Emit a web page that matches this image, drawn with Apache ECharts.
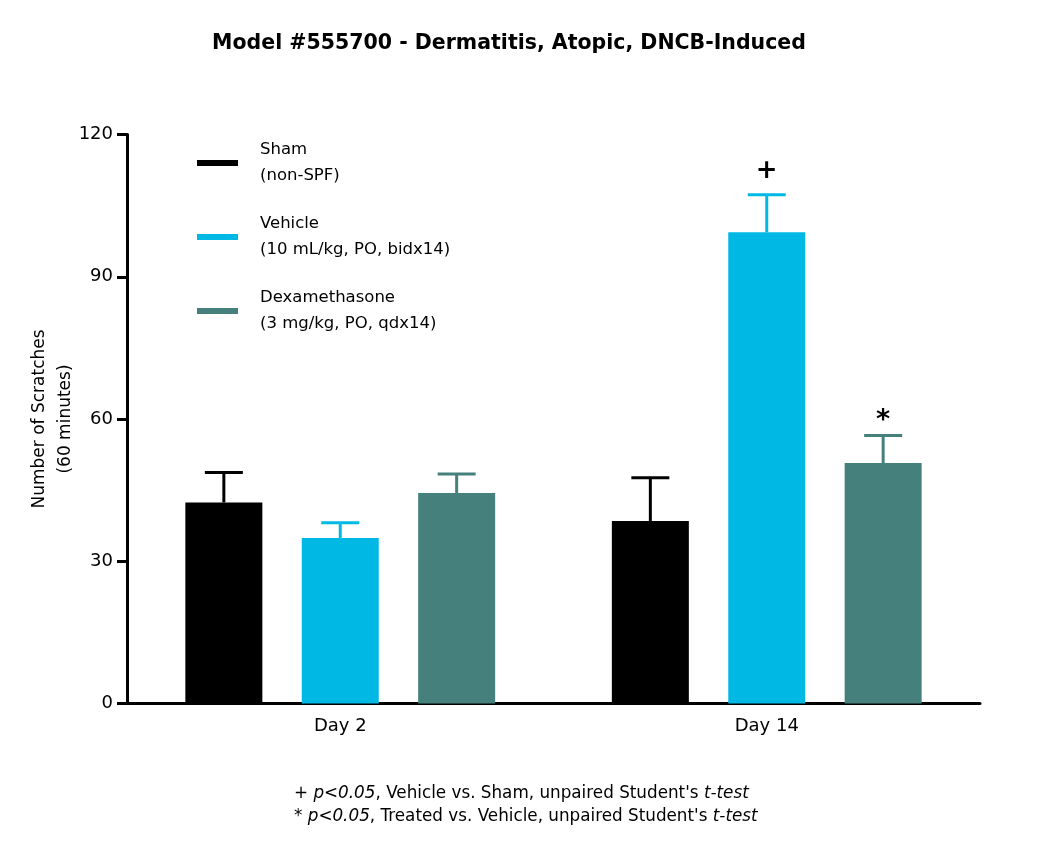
<!DOCTYPE html>
<html>
<head>
<meta charset="utf-8">
<script src="https://cdn.jsdelivr.net/npm/echarts@6/dist/echarts.min.js"></script>
<style>
html,body{margin:0;padding:0;background:#fff;}
#chart{width:1050px;height:855px;}
</style>
</head>
<body>
<div id="chart"></div>
<script>
// data
var days=['Day 2','Day 14'];
var groups=['Sham','Vehicle','Dexamethasone'];
var groupSub=['(non-SPF)','(10 mL/kg, PO, bidx14)','(3 mg/kg, PO, qdx14)'];
var shamMean=[42.4,38.5];
var shamSem=[6.3,9.1];
var vehMean=[34.9,99.4];
var vehSem=[3.2,7.9];
var dexMean=[44.4,50.7];
var dexSem=[4.0,5.8];
var vehSig=['','+'];
var dexSig=['','*'];
var yTicks=[0,30,60,90,120];

var colors=['#000000','#00b8e4','#45807d'];
var BAR_W=77, BAR_GAP=39.4;
var FONT='DejaVu Sans, Verdana, sans-serif';

var myChart=echarts.init(document.getElementById('chart'));

// error bar for one group (idx = position in the group)
function errSeries(idx,mean,sem,sig){
	var d=[];
	for(var i=0;i<days.length;i++){
		d.push([i,mean[i],sem[i],i]);
	}
	return {
		type:'custom',
		name:'err'+idx,
		z:5,
		silent:true,
		data:d,
		renderItem:function(params,api){
			var ci=api.value(0);
			var off=(idx-1)*(BAR_W+BAR_GAP);
			var x=api.coord([ci,0])[0]+off;
			var yM=api.coord([ci,api.value(1)])[1];
			var yT=api.coord([ci,api.value(1)+api.value(2)])[1];
			var st={stroke:colors[idx],lineWidth:3};
			var kids=[
				{type:'line',shape:{x1:x,y1:yM,x2:x,y2:yT},style:st},
				{type:'line',shape:{x1:x-19,y1:yT,x2:x+19,y2:yT},style:st}
			];
			var s=sig?sig[api.value(3)]:'';
			if(s){
				kids.push({type:'text',style:{
					text:s,x:x,y:yT-(s=='*'?1:10),
					align:'center',verticalAlign:'bottom',
					fill:'#000',font:(s=='*'?'bold 27px ':'bold 26px ')+FONT
				}});
			}
			return {type:'group',children:kids};
		}
	};
}

myChart.setOption({
	animation:false,
	backgroundColor:'#fff',
	title:{
		text:'Model #555700 - Dermatitis, Atopic, DNCB-Induced',
		left:509,top:33,textAlign:'center',padding:0,
		textStyle:{fontFamily:FONT,fontSize:20.5,fontWeight:'bold',color:'#000'}
	},
	legend:{
		data:groups,
		orient:'vertical',
		left:197,top:137,
		padding:0,
		icon:'rect',
		itemWidth:41,itemHeight:6,
		itemGap:22,
		selectedMode:false,
		formatter:function(n){
			return n+'\n'+groupSub[groups.indexOf(n)];
		},
		textStyle:{fontFamily:FONT,fontSize:16.5,color:'#000',lineHeight:26,padding:[0,0,0,17]}
	},
	grid:{left:127,right:70,top:134.5,bottom:151.5,outerBoundsMode:'none'},
	xAxis:{
		type:'category',
		data:days,
		axisLine:{lineStyle:{color:'#000',width:3}},
		axisTick:{alignWithLabel:true,length:10,lineStyle:{color:'#000',width:3}},
		axisLabel:{fontFamily:FONT,fontSize:18,color:'#000',margin:14}
	},
	yAxis:{
		type:'value',
		min:yTicks[0],max:yTicks[yTicks.length-1],interval:30,
		name:'Number of Scratches\n(60 minutes)',
		nameLocation:'middle',
		nameGap:48,
		nameMoveOverlap:false,
		nameTextStyle:{fontFamily:FONT,fontSize:17,color:'#000',lineHeight:26},
		splitLine:{show:false},
		axisLine:{show:true,lineStyle:{color:'#000',width:3}},
		axisTick:{show:true,length:10,lineStyle:{color:'#000',width:3}},
		axisLabel:{fontFamily:FONT,fontSize:18,color:'#000',margin:14}
	},
	graphic:[{
		type:'text',left:294,top:782,
		style:{
			text:'+ {i|p<0.05}, Vehicle vs. Sham, unpaired Student\'s {i|t-test}\n* {i|p<0.05}, Treated vs. Vehicle, unpaired Student\'s {i|t-test}',
			font:'16.8px '+FONT,fill:'#000',lineHeight:23,
			rich:{i:{fontStyle:'italic',fontFamily:FONT,fontSize:16.8,fill:'#000'}}
		}
	}],
	series:[
		{name:groups[0],type:'bar',data:shamMean,barWidth:BAR_W,barGap:(BAR_GAP/BAR_W*100)+'%',itemStyle:{color:colors[0]}},
		{name:groups[1],type:'bar',data:vehMean,barWidth:BAR_W,barGap:(BAR_GAP/BAR_W*100)+'%',itemStyle:{color:colors[1]}},
		{name:groups[2],type:'bar',data:dexMean,barWidth:BAR_W,barGap:(BAR_GAP/BAR_W*100)+'%',itemStyle:{color:colors[2]}},
		errSeries(0,shamMean,shamSem,null),
		errSeries(1,vehMean,vehSem,vehSig),
		errSeries(2,dexMean,dexSem,dexSig)
	]
});
</script>
</body>
</html>
